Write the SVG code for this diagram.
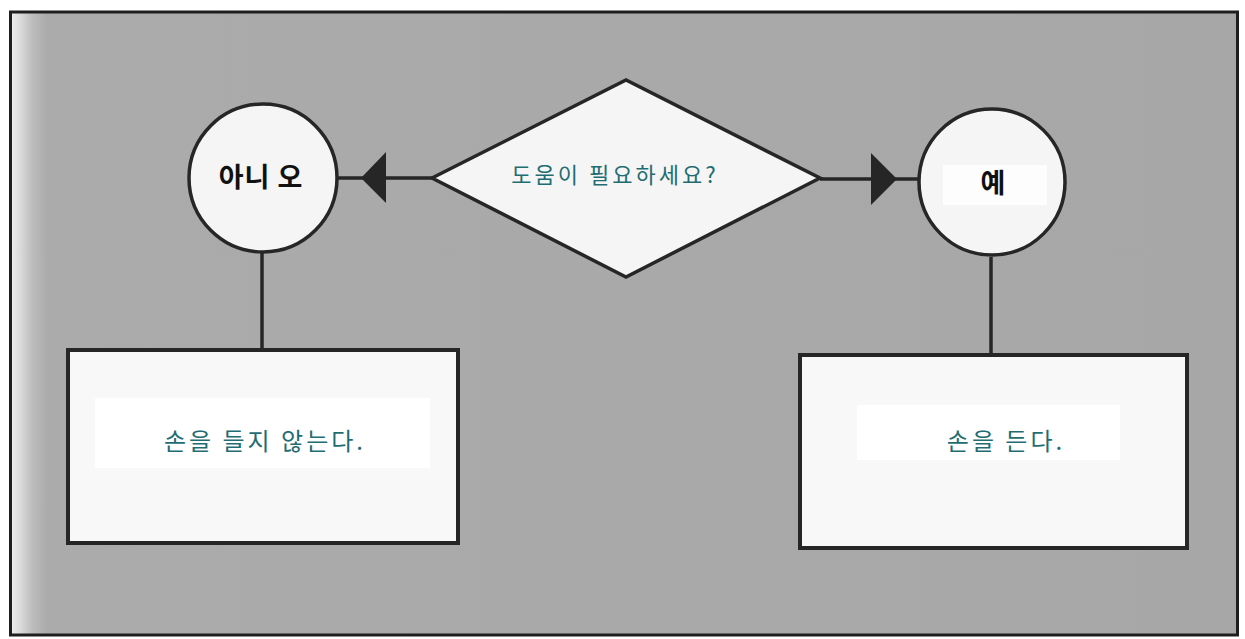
<svg xmlns="http://www.w3.org/2000/svg" width="1245" height="639" viewBox="0 0 1245 639">
<defs>
<linearGradient id="bg" x1="0" y1="0" x2="1" y2="0">
<stop offset="0" stop-color="#eeeeee"/>
<stop offset="0.008" stop-color="#dadada"/>
<stop offset="0.018" stop-color="#bcbcbc"/>
<stop offset="0.03" stop-color="#ababab"/>
<stop offset="1" stop-color="#a7a7a7"/>
</linearGradient>
<style>
.ln{stroke:#262626;stroke-width:3.5;fill:none}
.sh{stroke:#262626;stroke-width:3.5;fill:#f5f5f5}
.bx{stroke:#262626;stroke-width:4;fill:#f8f8f8}
.ah{fill:#262626}
.lbl{font-family:"Noto Sans CJK KR","Noto Sans",sans-serif;font-weight:700;fill:#111;text-anchor:middle}
.tl{font-family:"Noto Sans CJK KR","Noto Sans",sans-serif;fill:#1f6d72;text-anchor:middle}
</style>
</defs>
<rect x="0" y="0" width="1245" height="639" fill="#ffffff"/>
<rect id="frame" x="10.5" y="12" width="1227" height="623" fill="url(#bg)" stroke="#1e1e1e" stroke-width="3"/>
<g id="connectors">
<line class="ln" x1="432" y1="178" x2="338" y2="178"/>
<polygon class="ah" points="361,178 386,152 386,203"/>
<line class="ln" x1="820" y1="179" x2="920" y2="179"/>
<polygon class="ah" points="897,179 871,153 871,205"/>
<line class="ln" x1="262" y1="252" x2="262" y2="350"/>
<line class="ln" x1="991" y1="257" x2="991" y2="355"/>
</g>
<g id="decision">
<polygon class="sh" points="432,178 626,80 820,178 626,277"/>
<text class="tl" x="615" y="183" font-size="22" letter-spacing="3">도움이 필요하세요?</text>
</g>
<g id="no">
<circle class="sh" cx="263" cy="178" r="74"/>
<text class="lbl" x="261" y="187" font-size="27" letter-spacing="1">아니 오</text>
</g>
<g id="yes">
<circle class="sh" cx="992" cy="182" r="73"/>
<rect x="943" y="165" width="104" height="40" fill="#fdfdfd"/>
<text class="lbl" x="993" y="193" font-size="27">예</text>
</g>
<g id="no-action">
<rect class="bx" x="68" y="350" width="390" height="193"/>
<rect x="95" y="398" width="335" height="70" fill="#ffffff"/>
<text class="tl" x="265" y="450" font-size="24" letter-spacing="3">손을 들지 않는다.</text>
</g>
<g id="yes-action">
<rect class="bx" x="800" y="355" width="387" height="193"/>
<rect x="857" y="405" width="263" height="55" fill="#ffffff"/>
<text class="tl" x="1006" y="450" font-size="24" letter-spacing="3">손을 든다.</text>
</g>
</svg>
